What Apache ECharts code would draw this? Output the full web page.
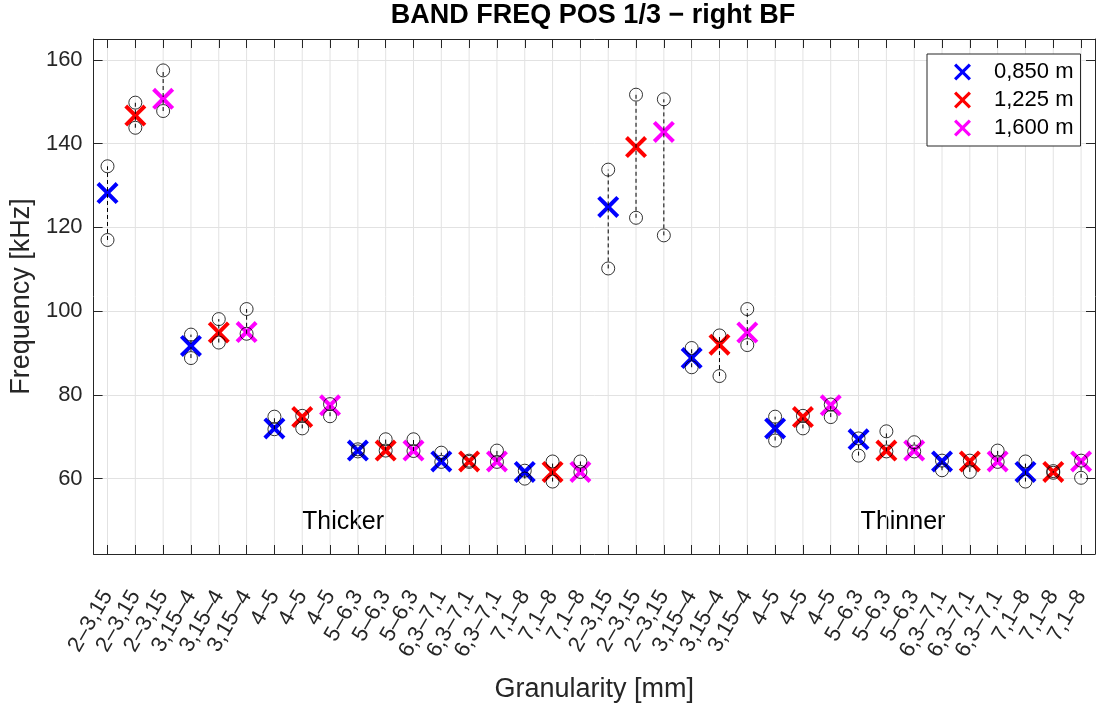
<!DOCTYPE html>
<html>
<head>
<meta charset="utf-8">
<style>
  html, body { margin: 0; padding: 0; background: #fff; }
  #chart { width: 1099px; height: 708px; }
</style>
<script src="https://cdn.jsdelivr.net/npm/echarts@6/dist/echarts.min.js"></script>
</head>
<body>
<div id="chart"></div>
<script>
const groups = ['2–3,15', '3,15–4', '4–5', '5–6,3', '6,3–7,1', '7,1–8']
const parts = ['Thicker', 'Thinner']
const distances = ['0,850 m', '1,225 m', '1,600 m']
const colors = ['#0000ff', '#ff0000', '#ff00ff']

// each array: 6 "Thicker" groups, then 6 "Thinner" groups
const mean085 = [128.2, 91.7, 72.0, 66.7, 64.1, 61.6, 124.9, 88.8, 72.0, 69.4, 64.1, 61.6]
const upper085 = [134.6, 94.4, 74.8, 67.0, 66.2, 61.9, 133.8, 91.2, 74.8, 69.6, 64.3, 64.1]
const lower085 = [117.0, 88.8, 71.8, 66.5, 64.0, 60.0, 110.2, 86.6, 69.1, 65.5, 62.0, 59.3]

const mean1225 = [146.7, 94.9, 74.7, 66.7, 64.1, 61.6, 139.2, 92.0, 74.7, 66.7, 64.1, 61.6]
const upper1225 = [149.8, 98.1, 75.0, 69.4, 64.3, 64.1, 151.7, 94.2, 75.0, 71.3, 64.3, 61.8]
const lower1225 = [143.8, 92.5, 72.0, 66.7, 64.0, 59.3, 122.3, 84.5, 72.0, 66.5, 61.6, 61.4]

const mean1600 = [150.7, 95.0, 77.5, 66.7, 64.1, 61.6, 142.8, 94.9, 77.5, 66.7, 64.1, 64.1]
const upper1600 = [157.5, 100.5, 77.8, 69.4, 66.7, 64.1, 150.6, 100.5, 77.7, 68.7, 66.7, 64.3]
const lower1600 = [147.8, 94.6, 74.9, 66.6, 64.0, 61.6, 118.1, 91.9, 74.7, 66.5, 64.0, 60.2]

const yMin = 42
const yMax = 165

const means = [mean085, mean1225, mean1600]
const uppers = [upper085, upper1225, upper1600]
const lowers = [lower085, lower1225, lower1600]

// category list: every group repeated once per distance, for both parts
const categories = []
parts.forEach(() => {
    groups.forEach(g => {
        distances.forEach(() => categories.push(g))
    })
})

const catIndex = (j, s) => Math.floor(j / 6) * 18 + (j % 6) * 3 + s

const xPath = 'path://M13,0L50,37L87,0L100,13L63,50L100,87L87,100L50,63L13,100L0,87L37,50L0,13Z'
const font = 'Liberation Sans, Arial, Helvetica, sans-serif'
const axisColor = '#262626'
const gridColor = '#e2e2e2'

const meanSeries = distances.map((name, s) => ({
    name: name,
    type: 'scatter',
    symbol: xPath,
    symbolSize: 22,
    itemStyle: { color: colors[s], opacity: 1 },
    emphasis: { disabled: true },
    z: 2,
    data: means[s].map((v, j) => [catIndex(j, s), v])
}))

const rangeData = []
const circleData = []
distances.forEach((d, s) => {
    means[s].forEach((v, j) => {
        const x = catIndex(j, s)
        rangeData.push([x, lowers[s][j], uppers[s][j]])
        circleData.push([x, uppers[s][j]])
        circleData.push([x, lowers[s][j]])
    })
})

// vertical grid lines through every category centre
const gridSeries = {
    name: 'xgrid',
    type: 'custom',
    z: 0,
    silent: true,
    encode: { x: 0 },
    renderItem: (params, api) => {
        const p = api.coord([api.value(0), yMin])
        const rect = params.coordSys
        return {
            type: 'line',
            shape: { x1: p[0], y1: rect.y, x2: p[0], y2: rect.y + rect.height },
            style: { stroke: gridColor, lineWidth: 1 }
        }
    },
    data: categories.map((c, i) => [i])
}

const rangeSeries = {
    name: 'range',
    type: 'custom',
    z: 3,
    encode: { x: 0, y: [1, 2] },
    renderItem: (params, api) => {
        const p1 = api.coord([api.value(0), api.value(1)])
        const p2 = api.coord([api.value(0), api.value(2)])
        return {
            type: 'line',
            shape: { x1: p1[0], y1: p1[1], x2: p2[0], y2: p2[1] },
            style: { stroke: '#000', lineWidth: 1, lineDash: [4, 3] }
        }
    },
    data: rangeData
}

const circleSeries = {
    name: 'limits',
    type: 'scatter',
    symbol: 'circle',
    symbolSize: 13,
    z: 4,
    itemStyle: { color: 'rgba(0,0,0,0)', borderColor: '#000', borderWidth: 1 },
    emphasis: { disabled: true },
    data: circleData
}

const chart = echarts.init(document.getElementById('chart'))

chart.setOption({
    animation: false,
    textStyle: { fontFamily: font },
    grid: { left: 93, right: 4, top: 39, bottom: 153 },
    graphic: [
        {
            type: 'text', x: 593, y: 16,
            style: { text: 'BAND FREQ POS 1/3 − right BF', fontFamily: font, fontSize: 27, fontWeight: 'bold', fill: '#000', align: 'center', verticalAlign: 'middle' }
        },
        {
            type: 'text', x: 343, y: 522,
            style: { text: parts[0], fontFamily: font, fontSize: 25, fill: '#000', align: 'center', verticalAlign: 'middle' }
        },
        {
            type: 'text', x: 903, y: 522,
            style: { text: parts[1], fontFamily: font, fontSize: 25, fill: '#000', align: 'center', verticalAlign: 'middle' }
        }
    ],
    legend: {
        data: distances,
        orient: 'vertical',
        left: 927,
        top: 54,
        padding: [7, 7, 7, 27],
        itemGap: 6,
        itemWidth: 17,
        itemHeight: 17,
        icon: xPath,
        backgroundColor: '#fff',
        borderColor: axisColor,
        borderWidth: 1,
        borderRadius: 0,
        selectedMode: false,
        textStyle: { fontSize: 22, color: '#000', lineHeight: 22, padding: [0, 0, 0, 18] }
    },
    xAxis: [
        {
            type: 'category',
            data: categories,
            position: 'bottom',
            boundaryGap: true,
            name: 'Granularity [mm]',
            nameLocation: 'middle',
            nameGap: 122,
            nameTextStyle: { fontSize: 27, color: axisColor },
            axisLine: { show: true, lineStyle: { color: axisColor } },
            axisTick: { show: true, inside: true, length: 9, alignWithLabel: true, interval: 0, lineStyle: { color: axisColor } },
            axisLabel: { interval: 0, rotate: 60, fontSize: 22, color: axisColor, margin: 38 },
            splitLine: { show: false }
        },
        {
            type: 'category',
            data: categories,
            position: 'top',
            boundaryGap: true,
            axisLine: { show: true, lineStyle: { color: axisColor } },
            axisTick: { show: true, inside: true, length: 9, alignWithLabel: true, interval: 0, lineStyle: { color: axisColor } },
            axisLabel: { show: false },
            splitLine: { show: false }
        }
    ],
    yAxis: [
        {
            type: 'value',
            min: yMin,
            max: yMax,
            position: 'left',
            name: 'Frequency [kHz]',
            nameLocation: 'middle',
            nameGap: 55,
            nameTextStyle: { fontSize: 27, color: axisColor },
            axisLine: { show: true, lineStyle: { color: axisColor } },
            axisTick: { show: true, inside: true, length: 9, lineStyle: { color: axisColor } },
            axisLabel: { fontSize: 22, color: axisColor, margin: 11, formatter: v => (v % 20 === 0 ? String(v) : '') },
            splitLine: { show: true, lineStyle: { color: gridColor } }
        },
        {
            type: 'value',
            min: yMin,
            max: yMax,
            position: 'right',
            axisLine: { show: true, lineStyle: { color: axisColor } },
            axisTick: { show: true, inside: true, length: 9, lineStyle: { color: axisColor } },
            axisLabel: { show: false },
            splitLine: { show: false }
        }
    ],
    series: [gridSeries, ...meanSeries, rangeSeries, circleSeries]
})
</script>
</body>
</html>
